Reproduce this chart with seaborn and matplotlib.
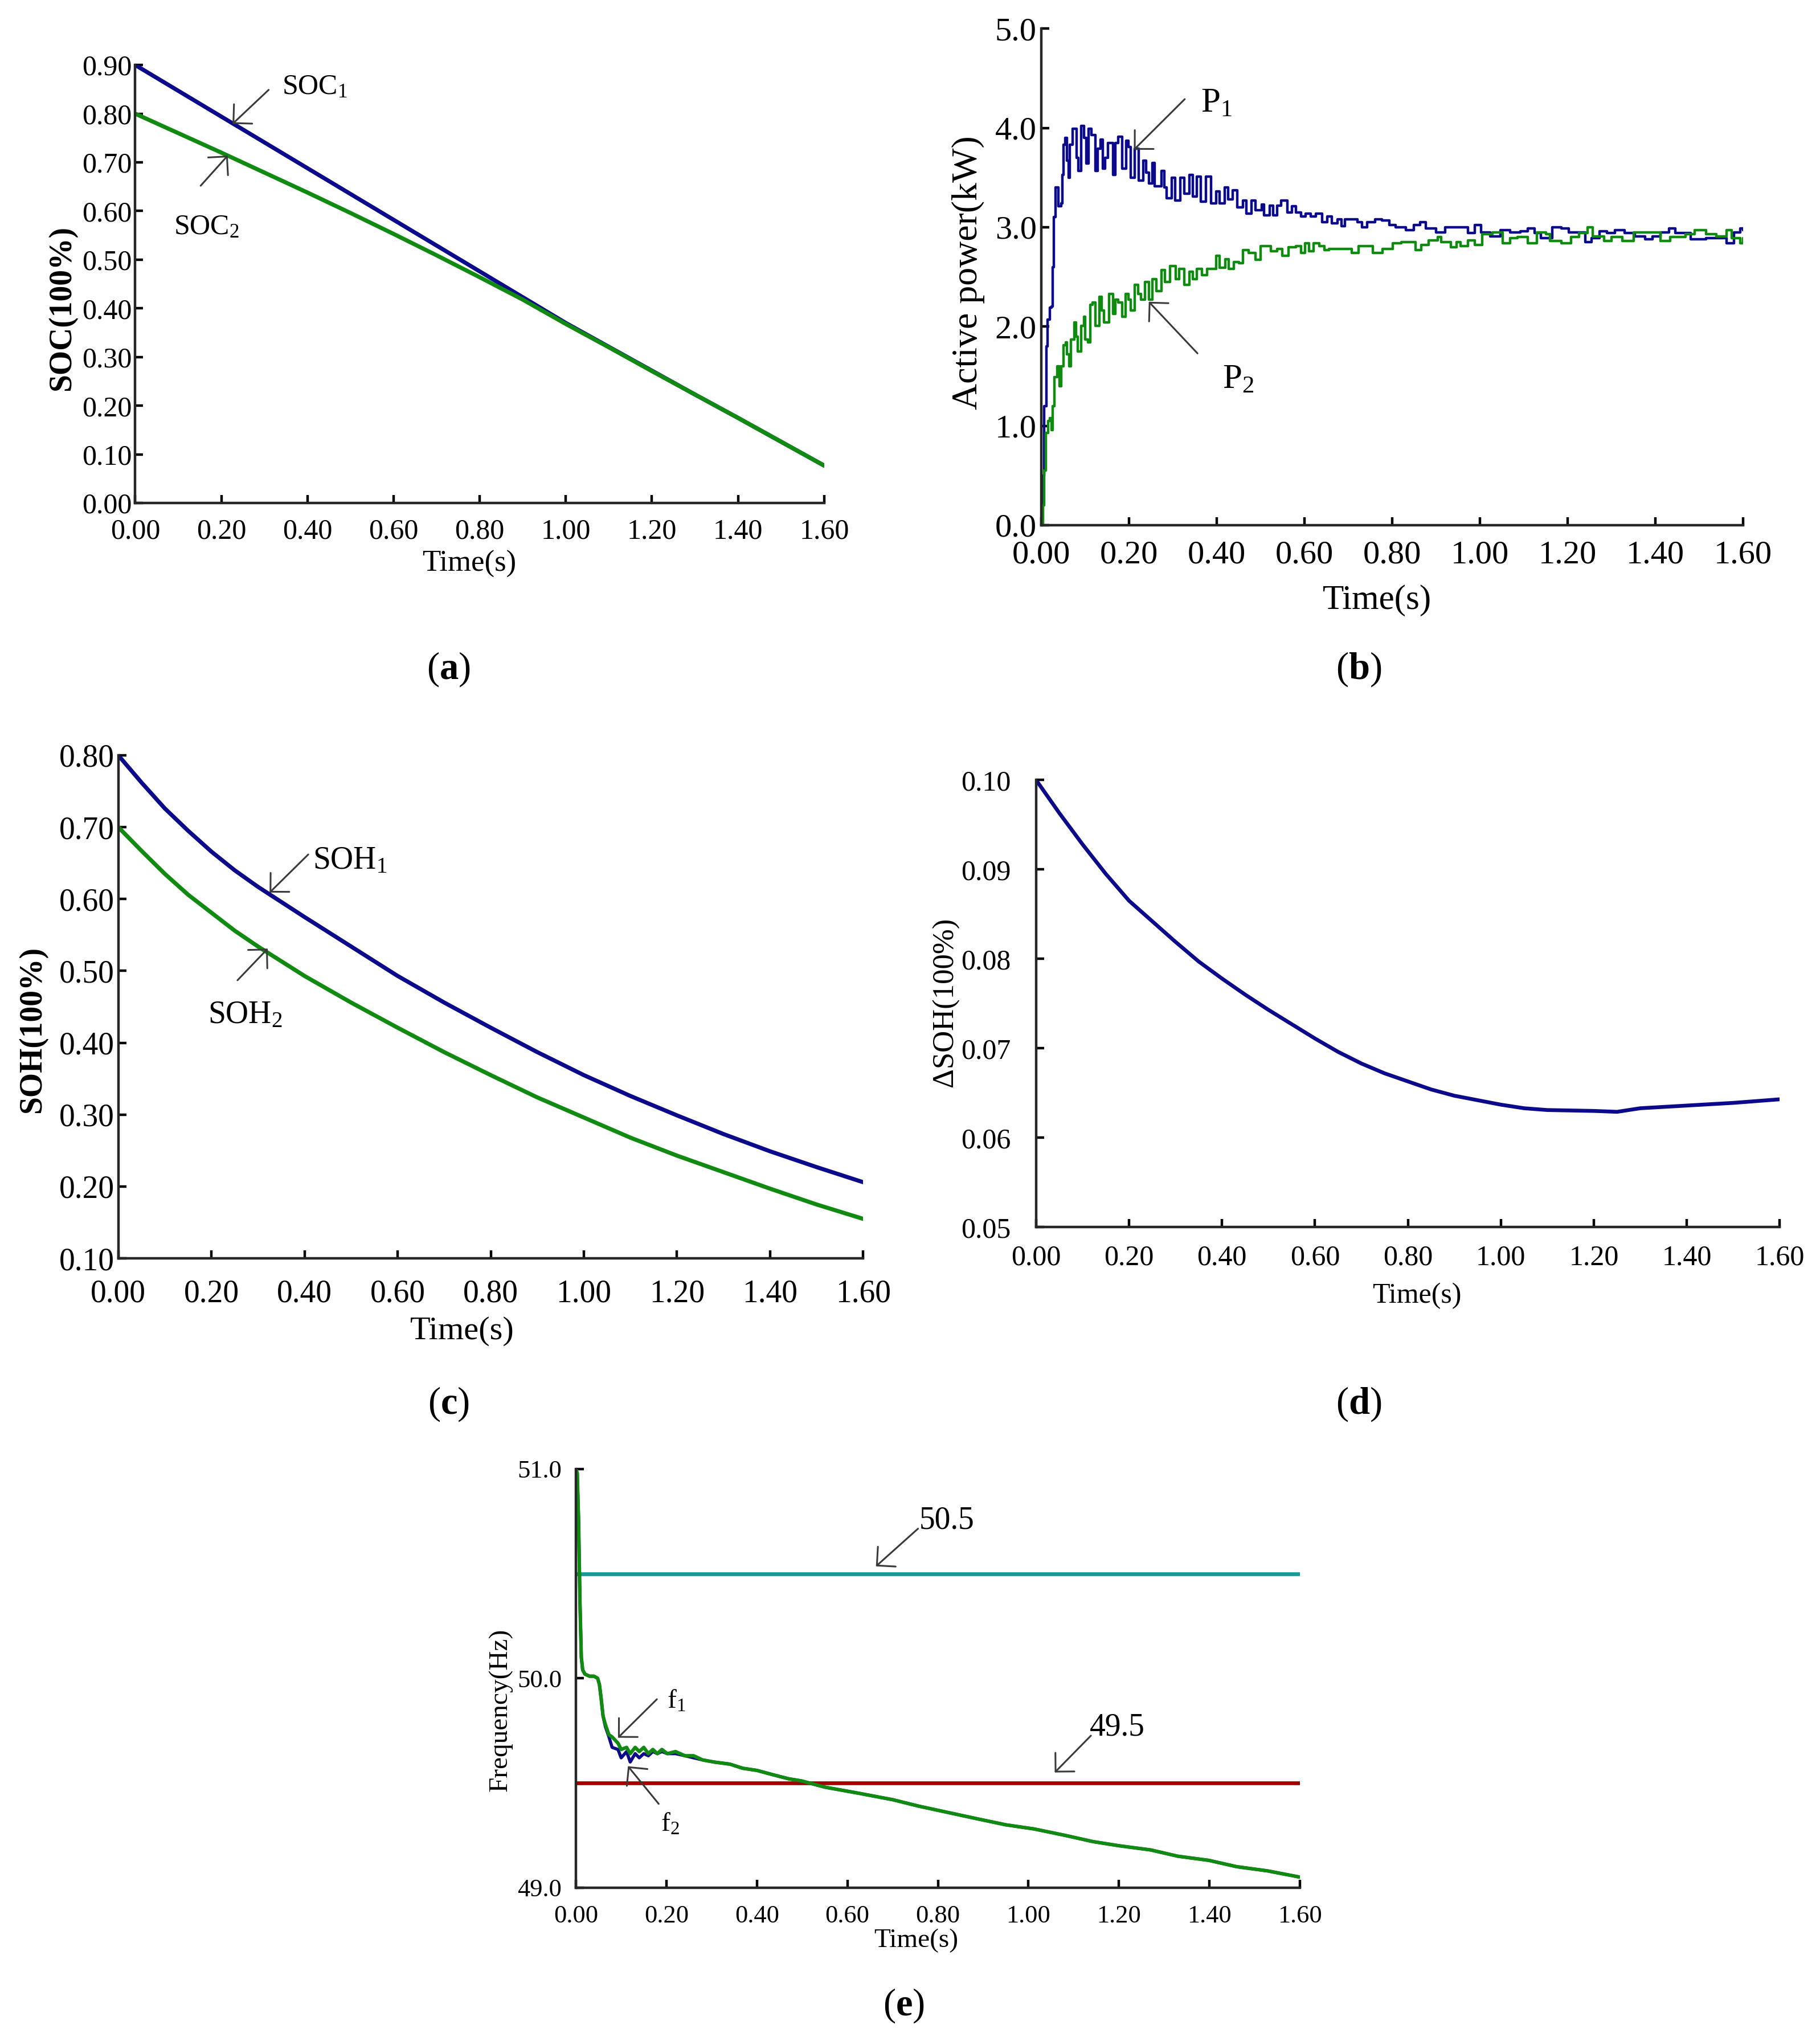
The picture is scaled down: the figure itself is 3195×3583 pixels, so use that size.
import matplotlib
matplotlib.use('Agg')
import matplotlib.pyplot as plt
import seaborn as sns

# ---- data ----
# (a) state of charge
SOC_T = [0.0, 0.1, 0.2, 0.3, 0.4, 0.5, 0.6, 0.7, 0.8, 0.9, 1.0, 1.1, 1.2, 1.3, 1.4, 1.5, 1.6]
SOC1 = [0.900, 0.847, 0.794, 0.741, 0.688, 0.635, 0.582, 0.529, 0.476, 0.423, 0.370,
        0.321, 0.272, 0.223, 0.175, 0.126, 0.077]
SOC2 = [0.800, 0.760, 0.720, 0.679, 0.638, 0.596, 0.553, 0.509, 0.464, 0.418, 0.368,
        0.320, 0.271, 0.223, 0.175, 0.126, 0.077]

# (b) active power
P1_T = [0.000, 0.003, 0.007, 0.012, 0.014, 0.019, 0.023, 0.026, 0.029, 0.033, 0.039, 0.045,
        0.048, 0.050, 0.055, 0.058, 0.062, 0.065, 0.071, 0.074, 0.080, 0.085, 0.091, 0.097,
        0.103, 0.108, 0.114, 0.123, 0.129, 0.135, 0.140, 0.146, 0.152, 0.163, 0.169, 0.175,
        0.184, 0.193, 0.198, 0.204, 0.213, 0.222, 0.233, 0.239, 0.245, 0.253, 0.259, 0.274,
        0.280, 0.285, 0.297, 0.305, 0.317, 0.326, 0.337, 0.346, 0.355, 0.363, 0.375, 0.387,
        0.398, 0.407, 0.418, 0.426, 0.436, 0.447, 0.459, 0.468, 0.479, 0.488, 0.503, 0.508,
        0.520, 0.528, 0.538, 0.547, 0.561, 0.571, 0.581, 0.592, 0.603, 0.614, 0.626, 0.640,
        0.652, 0.662, 0.675, 0.684, 0.692, 0.720, 0.731, 0.743, 0.761, 0.776, 0.793, 0.808,
        0.831, 0.849, 0.863, 0.877, 0.900, 0.921, 0.958, 0.973, 0.988, 1.002, 1.023, 1.046,
        1.069, 1.092, 1.109, 1.124, 1.138, 1.164, 1.185, 1.202, 1.225, 1.240, 1.254, 1.272,
        1.289, 1.307, 1.330, 1.353, 1.376, 1.393, 1.411, 1.431, 1.445, 1.480, 1.515, 1.550,
        1.562, 1.579, 1.593, 1.600]
P1_KW = [0.00, 0.50, 1.20, 1.80, 2.07, 2.19, 2.20, 2.60, 3.10, 3.40, 3.21, 3.24,
         3.53, 3.83, 3.90, 3.67, 3.50, 3.83, 3.99, 3.99, 3.70, 3.57, 4.02, 3.90,
         3.64, 3.99, 3.93, 3.57, 3.79, 3.88, 3.59, 3.70, 3.85, 3.53, 3.85, 3.91,
         3.59, 3.87, 3.81, 3.50, 3.79, 3.47, 3.67, 3.55, 3.44, 3.65, 3.41, 3.57,
         3.40, 3.29, 3.50, 3.27, 3.50, 3.34, 3.53, 3.31, 3.51, 3.26, 3.51, 3.24,
         3.36, 3.24, 3.40, 3.28, 3.37, 3.20, 3.27, 3.14, 3.27, 3.17, 3.23, 3.12,
         3.22, 3.12, 3.22, 3.27, 3.15, 3.21, 3.15, 3.11, 3.14, 3.11, 3.14, 3.05,
         3.11, 3.04, 3.08, 3.01, 3.08, 3.05, 3.00, 3.05, 3.08, 3.07, 3.02, 3.00,
         2.97, 3.02, 3.05, 2.99, 2.95, 3.00, 3.00, 2.94, 3.02, 2.95, 2.91, 2.97,
         2.95, 2.96, 2.99, 2.94, 2.89, 3.00, 2.99, 2.95, 2.95, 2.85, 2.89, 2.96,
         2.94, 2.97, 2.94, 2.91, 2.88, 2.91, 2.95, 2.99, 2.94, 2.88, 2.89, 2.89,
         2.84, 2.95, 2.99, 2.97]

P2_T = [0.000, 0.004, 0.007, 0.010, 0.016, 0.020, 0.023, 0.026, 0.030, 0.036, 0.041, 0.046,
        0.050, 0.056, 0.059, 0.064, 0.068, 0.075, 0.079, 0.083, 0.091, 0.097, 0.100, 0.106,
        0.112, 0.117, 0.123, 0.132, 0.137, 0.143, 0.155, 0.163, 0.169, 0.175, 0.184, 0.192,
        0.198, 0.204, 0.213, 0.221, 0.227, 0.236, 0.245, 0.253, 0.262, 0.274, 0.282, 0.294,
        0.306, 0.314, 0.326, 0.337, 0.346, 0.355, 0.366, 0.378, 0.387, 0.398, 0.407, 0.419,
        0.427, 0.439, 0.450, 0.459, 0.473, 0.488, 0.500, 0.523, 0.537, 0.549, 0.563, 0.581,
        0.592, 0.601, 0.610, 0.621, 0.633, 0.645, 0.656, 0.685, 0.708, 0.723, 0.737, 0.755,
        0.778, 0.801, 0.820, 0.843, 0.853, 0.866, 0.883, 0.904, 0.912, 0.933, 0.947, 0.956,
        0.973, 0.988, 1.005, 1.028, 1.052, 1.069, 1.086, 1.109, 1.130, 1.150, 1.159, 1.185,
        1.208, 1.225, 1.245, 1.257, 1.283, 1.300, 1.324, 1.350, 1.376, 1.411, 1.434, 1.469,
        1.489, 1.515, 1.538, 1.562, 1.573, 1.593, 1.600]
P2_KW = [0.00, 0.20, 0.55, 0.93, 1.05, 1.08, 0.96, 1.20, 1.49, 1.60, 1.40, 1.60,
         1.81, 1.84, 1.72, 1.60, 1.87, 2.04, 1.90, 1.75, 2.01, 2.10, 1.87, 1.84,
         2.22, 2.24, 2.01, 2.30, 2.16, 2.04, 2.33, 2.13, 2.27, 2.24, 2.10, 2.33,
         2.27, 2.16, 2.42, 2.33, 2.27, 2.45, 2.27, 2.48, 2.36, 2.57, 2.45, 2.61,
         2.48, 2.58, 2.42, 2.55, 2.48, 2.58, 2.52, 2.58, 2.58, 2.71, 2.59, 2.68,
         2.58, 2.65, 2.64, 2.77, 2.74, 2.67, 2.81, 2.76, 2.78, 2.71, 2.80, 2.81,
         2.74, 2.84, 2.76, 2.84, 2.81, 2.77, 2.78, 2.78, 2.74, 2.81, 2.81, 2.74,
         2.78, 2.84, 2.85, 2.85, 2.77, 2.82, 2.87, 2.90, 2.85, 2.80, 2.85, 2.81,
         2.87, 2.82, 2.93, 2.95, 2.84, 2.89, 2.90, 2.84, 2.95, 2.93, 2.86, 2.84,
         2.90, 2.94, 3.00, 2.91, 2.86, 2.90, 2.86, 2.95, 2.95, 2.86, 2.90, 2.93,
         2.97, 2.93, 2.91, 2.97, 2.89, 2.84, 2.89]

# (c) state of health
SOH_T = [0.0, 0.05, 0.1, 0.15, 0.2, 0.25, 0.3, 0.4, 0.5, 0.6, 0.7, 0.8, 0.9, 1.0, 1.1, 1.2,
         1.3, 1.4, 1.5, 1.6]
SOH1 = [0.800, 0.762, 0.726, 0.695, 0.666, 0.640, 0.617, 0.575, 0.534, 0.493, 0.456, 0.421,
        0.387, 0.355, 0.326, 0.299, 0.273, 0.249, 0.227, 0.206]
SOH2 = [0.700, 0.667, 0.635, 0.606, 0.581, 0.556, 0.534, 0.493, 0.456, 0.421, 0.387, 0.355,
        0.324, 0.296, 0.268, 0.243, 0.220, 0.197, 0.175, 0.155]

# (d) SOH difference
DSOH_T = [0.0, 0.05, 0.1, 0.15, 0.2, 0.25, 0.3, 0.35, 0.4, 0.45, 0.5, 0.55, 0.6, 0.65, 0.7,
          0.75, 0.8, 0.85, 0.9, 0.95, 1.0, 1.05, 1.1, 1.2, 1.25, 1.3, 1.4, 1.5, 1.6]
DSOH = [0.1000, 0.0963, 0.0928, 0.0895, 0.0865, 0.0842, 0.0819, 0.0797, 0.0778, 0.0760,
        0.0743, 0.0727, 0.0711, 0.0696, 0.0683, 0.0672, 0.0663, 0.0654, 0.0647, 0.0642,
        0.0637, 0.0633, 0.0631, 0.0630, 0.0629, 0.0633, 0.0636, 0.0639, 0.0643]

# (e) frequency
F_T = [0.000, 0.003, 0.006, 0.009, 0.012, 0.015, 0.020, 0.030, 0.040, 0.048, 0.052, 0.056,
       0.060, 0.065, 0.073, 0.080, 0.093, 0.100, 0.112, 0.120, 0.131, 0.140, 0.150, 0.160,
       0.170, 0.180, 0.190, 0.202, 0.220, 0.241, 0.260, 0.280, 0.305, 0.340, 0.369, 0.400,
       0.434, 0.470, 0.498, 0.550, 0.627, 0.700, 0.756, 0.820, 0.884, 0.950, 1.013, 1.080,
       1.142, 1.200, 1.270, 1.330, 1.399, 1.460, 1.528, 1.600]
F1 = [51.00, 50.98, 50.75, 50.36, 50.10, 50.04, 50.02, 50.01, 50.01, 50.00, 49.97, 49.90,
      49.82, 49.78, 49.73, 49.72, 49.69, 49.66, 49.67, 49.64, 49.67, 49.65, 49.67, 49.64,
      49.66, 49.64, 49.66, 49.64, 49.65, 49.63, 49.63, 49.61, 49.60, 49.59, 49.57, 49.56,
      49.54, 49.52, 49.51, 49.48, 49.45, 49.42, 49.39, 49.36, 49.33, 49.30, 49.28, 49.25,
      49.22, 49.20, 49.18, 49.15, 49.13, 49.10, 49.08, 49.05]
F2 = [51.00, 50.98, 50.75, 50.36, 50.10, 50.04, 50.02, 50.01, 50.01, 50.00, 49.97, 49.90,
      49.82, 49.77, 49.72, 49.67, 49.66, 49.62, 49.65, 49.60, 49.64, 49.62, 49.64, 49.63,
      49.65, 49.64, 49.65, 49.64, 49.64, 49.63, 49.62, 49.61, 49.60, 49.59, 49.57, 49.56,
      49.54, 49.52, 49.51, 49.48, 49.45, 49.42, 49.39, 49.36, 49.33, 49.30, 49.28, 49.25,
      49.22, 49.20, 49.18, 49.15, 49.13, 49.10, 49.08, 49.05]
LIMIT_T = [0.0, 1.6]
F_UPPER = [50.5, 50.5]
F_LOWER = [49.5, 49.5]

TIME_TICKS = [0.0, 0.2, 0.4, 0.6, 0.8, 1.0, 1.2, 1.4, 1.6]

BLUE = '#0a0a8a'
GREEN = '#108a10'
TEAL = '#189898'
RED = '#a00000'
ARROW = '#3a3a3a'

sns.set_theme(style='ticks')
plt.rcParams['font.family'] = ['Liberation Serif', 'DejaVu Serif']
plt.rcParams['mathtext.fontset'] = 'custom'
plt.rcParams['mathtext.rm'] = 'Liberation Serif'
plt.rcParams['mathtext.it'] = 'Liberation Serif:italic'
plt.rcParams['mathtext.bf'] = 'Liberation Serif:bold'
plt.rcParams['axes.linewidth'] = 1.6
plt.rcParams['text.color'] = 'black'
plt.rcParams['axes.labelcolor'] = 'black'

fig = plt.figure(figsize=(15.975, 17.915), dpi=200)
W, H = 1400.0, 1570.0


def make_axes(x0, x1, y_bot, y_top):
    # positions measured in the 1400 x 1570 preview of the reference
    return fig.add_axes([x0 / W, 1 - y_bot / H, (x1 - x0) / W, (y_bot - y_top) / H])


def style(ax, ylim, yticks, yfmt, tsize, xlabel, ylabel, lsize, ysize, xlab_pos, ylab_pos,
          xpad, ypad, yweight='normal'):
    ax.set_xlim(0, 1.6)
    ax.set_ylim(*ylim)
    ax.set_xticks(TIME_TICKS)
    ax.set_xticklabels([f'{t:.2f}' for t in TIME_TICKS], fontsize=tsize)
    ax.set_yticks(yticks)
    ax.set_yticklabels([yfmt.format(v) for v in yticks], fontsize=tsize)
    sns.despine(ax=ax)
    ax.tick_params(direction='in', length=5, width=1.6, colors='black')
    ax.tick_params(axis='x', pad=xpad)
    ax.tick_params(axis='y', pad=ypad)
    ax.set_xlabel(xlabel, fontsize=lsize)
    ax.set_ylabel(ylabel, fontsize=ysize, fontweight=yweight)
    ax.xaxis.set_label_coords(*xlab_pos)
    ax.yaxis.set_label_coords(*ylab_pos)
    ax.xaxis.label.set_verticalalignment('center')
    ax.yaxis.label.set_verticalalignment('center')
    ax.grid(False)


def note(ax, text, tip, tail, textpos, size):
    ax.annotate('', xy=tip, xytext=tail,
                arrowprops=dict(arrowstyle='->,head_length=0.7,head_width=0.7', color=ARROW,
                                lw=1.1, shrinkA=0, shrinkB=0))
    ax.text(textpos[0], textpos[1], text, fontsize=size, ha='left', va='baseline')


# ---- (a) ----
ax = make_axes(104, 634, 387, 50)
sns.lineplot(x=SOC_T, y=SOC1, ax=ax, color=BLUE, lw=2.6, estimator=None)
sns.lineplot(x=SOC_T, y=SOC2, ax=ax, color=GREEN, lw=2.6, estimator=None)
style(ax, (0, 0.9), [i / 10 for i in range(10)], '{:.2f}', 18, 'Time(s)', 'SOC(100%)',
      19, 20, (0.485, -0.139), (-0.106, 0.445), 9.5, 2, 'bold')
note(ax, 'SOC$_1$', (0.226, 0.779), (0.310, 0.849), (0.341, 0.840), 18)
note(ax, 'SOC$_2$', (0.215, 0.714), (0.152, 0.652), (0.089, 0.553), 18)

# ---- (b) ----
ax = make_axes(801, 1341, 404, 22)
sns.lineplot(x=P1_T, y=P1_KW, ax=ax, color=BLUE, lw=1.6, estimator=None, drawstyle='steps-post')
sns.lineplot(x=P2_T, y=P2_KW, ax=ax, color=GREEN, lw=1.6, estimator=None, drawstyle='steps-post')
style(ax, (0, 5), [0, 1, 2, 3, 4, 5], '{:.1f}', 21, 'Time(s)', 'Active power(kW)',
      22, 23, (0.478, -0.152), (-0.104, 0.508), 9.5, 3)
note(ax, 'P$_1$', (0.211, 3.78), (0.327, 4.29), (0.363, 4.16), 22)
note(ax, 'P$_2$', (0.245, 2.25), (0.356, 1.73), (0.413, 1.38), 22)

# ---- (c) ----
ax = make_axes(91, 664, 968, 581)
sns.lineplot(x=SOH_T, y=SOH1, ax=ax, color=BLUE, lw=2.6, estimator=None)
sns.lineplot(x=SOH_T, y=SOH2, ax=ax, color=GREEN, lw=2.6, estimator=None)
style(ax, (0.1, 0.8), [i / 10 for i in range(1, 9)], '{:.2f}', 20, 'Time(s)', 'SOH(100%)',
      21, 20, (0.462, -0.145), (-0.115, 0.455), 13, 2.5, 'bold')
note(ax, 'SOH$_1$', (0.325, 0.609), (0.408, 0.662), (0.418, 0.642), 20)
note(ax, 'SOH$_2$', (0.321, 0.531), (0.256, 0.487), (0.193, 0.427), 20)

# ---- (d) ----
ax = make_axes(797, 1369, 944, 600)
sns.lineplot(x=DSOH_T, y=DSOH, ax=ax, color=BLUE, lw=2.4, estimator=None)
style(ax, (0.05, 0.10), [0.05, 0.06, 0.07, 0.08, 0.09, 0.10], '{:.2f}', 18, 'Time(s)',
      '\u0394SOH(100%)', 18, 19, (0.512, -0.154), (-0.122, 0.503), 11, 16)

# ---- (e) ----
ax = make_axes(443, 1000, 1452, 1130)
sns.lineplot(x=LIMIT_T, y=F_UPPER, ax=ax, color=TEAL, lw=2.4, estimator=None)
sns.lineplot(x=LIMIT_T, y=F_LOWER, ax=ax, color=RED, lw=2.4, estimator=None)
sns.lineplot(x=F_T, y=F2, ax=ax, color=BLUE, lw=2.0, estimator=None)
sns.lineplot(x=F_T, y=F1, ax=ax, color=GREEN, lw=2.2, estimator=None)
style(ax, (49, 51), [49, 50, 51], '{:.1f}', 16, 'Time(s)', 'Frequency(Hz)',
      17, 17, (0.470, -0.127), (-0.104, 0.425), 11, 9)
note(ax, '50.5', (0.663, 50.535), (0.756, 50.715), (0.758, 50.715), 20)
note(ax, '49.5', (1.058, 49.55), (1.138, 49.726), (1.135, 49.726), 20)
note(ax, 'f$_1$', (0.093, 49.716), (0.179, 49.90), (0.202, 49.856), 17)
note(ax, 'f$_2$', (0.115, 49.58), (0.183, 49.40), (0.187, 49.27), 17)

# ---- panel letters ----
for letter, (px, py) in {'a': (345, 515), 'b': (1045, 515), 'c': (345, 1080),
                         'd': (1045, 1080), 'e': (695, 1543)}.items():
    fig.text(px / W, 1 - py / H, '($\\mathbf{' + letter + '}$)', fontsize=24,
             ha='center', va='center')

fig.savefig('out.png', dpi=200)
